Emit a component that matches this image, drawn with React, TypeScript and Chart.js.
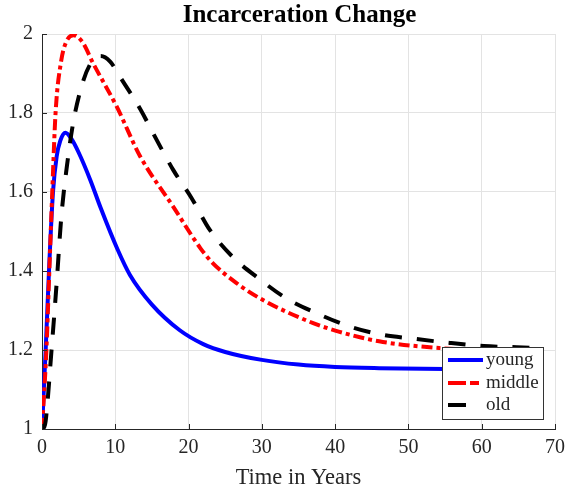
import React, { useEffect, useRef } from "react";
import { Chart, registerables } from "chart.js";

Chart.register(...registerables);

const titleText = "Incarceration Change";
const xAxisLabel = "Time in Years";
const seriesNames = ["young", "middle", "old"];
const xTickValues = [0, 10, 20, 30, 40, 50, 60, 70];
const yTickLabels = ["1", "1.2", "1.4", "1.6", "1.8", "2"];

const tYoung = [0, 0.5, 1.0, 1.5, 2.0, 2.5, 3.2, 4.0, 5.0, 6.6, 8.0, 10.3, 12, 15, 18.8, 22, 25, 30, 35, 40, 46, 55, 68];
const young = [1.0, 1.2, 1.42, 1.6, 1.69, 1.73, 1.75, 1.735, 1.7, 1.63, 1.56, 1.455, 1.39, 1.315, 1.25, 1.215, 1.195, 1.175, 1.163, 1.157, 1.154, 1.152, 1.151];

const tMiddle = [0, 0.6, 1.0, 1.4, 1.85, 2.6, 3.3, 4.3, 5.5, 7, 10.2, 13.4, 17.9, 21.6, 23.3, 26.5, 30.1, 37, 40.6, 46, 54.2, 60, 68];
const middle = [1.0, 1.2, 1.4, 1.6, 1.8, 1.93, 1.98, 1.997, 1.98, 1.925, 1.816, 1.69, 1.563, 1.458, 1.42, 1.37, 1.327, 1.268, 1.246, 1.222, 1.205, 1.2, 1.197];

const tOld = [0, 0.3, 0.5, 1.3, 2.0, 2.65, 3.5, 4.3, 5.6, 6.8, 8.0, 9.3, 10.7, 13.4, 15.7, 17.9, 20.4, 22.9, 26, 29.5, 33.4, 37.5, 41.6, 46, 51, 55.6, 60.3, 64.8, 68];
const old = [1.0, 1.005, 1.02, 1.2, 1.37, 1.54, 1.68, 1.78, 1.88, 1.93, 1.944, 1.93, 1.89, 1.81, 1.73, 1.656, 1.585, 1.504, 1.436, 1.382, 1.33, 1.293, 1.262, 1.24, 1.228, 1.218, 1.21, 1.207, 1.205];

const AX = "#262626";
const FONT = "'Liberation Serif', 'Times New Roman', serif";
const legendDashes = [[], [18, 4, 9, 100], [18, 100]];

const pts = (t: number[], v: number[]) => t.map((x, i) => ({ x, y: v[i] }));

const decorPlugin = {
  id: "decor",
  afterDraw(chart: any) {
    const ctx = chart.ctx;
    const a = chart.chartArea;
    const xs = chart.scales.x;
    const ys = chart.scales.y;
    ctx.save();
    ctx.strokeStyle = AX;
    ctx.lineWidth = 1;
    ctx.beginPath();
    xTickValues.forEach((v) => {
      const px = Math.round(xs.getPixelForValue(v)) + 0.5;
      ctx.moveTo(px, a.bottom);
      ctx.lineTo(px, a.bottom - 5);
    });
    yTickLabels.forEach((l) => {
      const py = Math.round(ys.getPixelForValue(parseFloat(l))) + 0.5;
      ctx.moveTo(a.left, py);
      ctx.lineTo(a.left + 5, py);
    });
    ctx.stroke();
    ctx.fillStyle = "#000";
    ctx.font = `bold 25px ${FONT}`;
    ctx.textAlign = "center";
    ctx.textBaseline = "middle";
    ctx.fillText(titleText, (a.left + a.right) / 2 + 1, 16);
    const bx = 442, by = 347, bw = 101, bh = 72;
    ctx.fillStyle = "#fff";
    ctx.fillRect(bx, by, bw, bh);
    ctx.strokeStyle = "#333";
    ctx.lineWidth = 1;
    ctx.strokeRect(bx + 0.5, by + 0.5, bw, bh);
    const rows = [360, 383, 405];
    chart.data.datasets.forEach((ds: any, i: number) => {
      const y = rows[i];
      ctx.strokeStyle = ds.borderColor;
      ctx.lineWidth = ds.borderWidth;
      ctx.lineCap = "butt";
      ctx.setLineDash(legendDashes[i]);
      ctx.beginPath();
      ctx.moveTo(448, y);
      ctx.lineTo(483, y);
      ctx.stroke();
      ctx.setLineDash([]);
      ctx.fillStyle = AX;
      ctx.font = `19px ${FONT}`;
      ctx.textAlign = "left";
      ctx.textBaseline = "middle";
      ctx.fillText(ds.label, 486, y);
    });
    ctx.restore();
  },
};

export default function App() {
  const ref = useRef<HTMLCanvasElement | null>(null);
  useEffect(() => {
    document.body.style.margin = "0";
    const chart = new Chart(ref.current as HTMLCanvasElement, {
      type: "line",
      data: {
        datasets: [
          {
            label: seriesNames[0],
            data: pts(tYoung, young),
            borderColor: "#0000ff",
            borderWidth: 4,
            pointRadius: 0,
            cubicInterpolationMode: "monotone",
            order: 3,
          },
          {
            label: seriesNames[1],
            data: pts(tMiddle, middle),
            borderColor: "#ff0000",
            borderWidth: 4,
            borderDash: [11, 4, 4, 4],
            pointRadius: 0,
            cubicInterpolationMode: "monotone",
            order: 2,
          },
          {
            label: seriesNames[2],
            data: pts(tOld, old),
            borderColor: "#000000",
            borderWidth: 4,
            borderDash: [17, 15],
            pointRadius: 0,
            cubicInterpolationMode: "monotone",
            order: 1,
          },
        ],
      },
      options: {
        animation: false,
        responsive: false,
        layout: { autoPadding: false, padding: { top: 34, right: 11, left: 0, bottom: 0 } },
        plugins: { legend: { display: false }, tooltip: { enabled: false }, title: { display: false } },
        scales: {
          x: {
            type: "linear",
            min: 0,
            max: 70,
            afterFit: (s: any) => { s.height = 63; s.paddingRight = 0; s.paddingLeft = 0; },
            afterBuildTicks: (s: any) => { s.ticks = xTickValues.map((v) => ({ value: v })); },
            ticks: { color: AX, font: { family: FONT, size: 20 }, padding: 7, maxRotation: 0, callback: (v: any) => String(v) },
            grid: { color: "#e3e3e3", drawTicks: false },
            border: { color: AX, width: 1 },
            title: { display: true, text: xAxisLabel, color: AX, font: { family: FONT, size: 22.5 }, padding: { top: 0, bottom: 0 } },
          },
          y: {
            min: 1,
            max: 2,
            afterFit: (s: any) => { s.width = 42; s.paddingTop = 0; s.paddingBottom = 0; },
            afterBuildTicks: (s: any) => { s.ticks = yTickLabels.map((l) => ({ value: parseFloat(l) })); },
            ticks: { color: AX, font: { family: FONT, size: 20 }, padding: 9, callback: (v: any, i: number) => yTickLabels[i] },
            grid: { color: "#e3e3e3", drawTicks: false },
            border: { color: AX, width: 1 },
          },
        },
      },
      plugins: [decorPlugin],
    } as any);
    return () => chart.destroy();
  }, []);
  return (
    <div style={{ position: "absolute", left: 0, top: 0, width: 566, height: 492, background: "#fff" }}>
      <canvas ref={ref} width={566} height={492} style={{ width: 566, height: 492 }} />
    </div>
  );
}
